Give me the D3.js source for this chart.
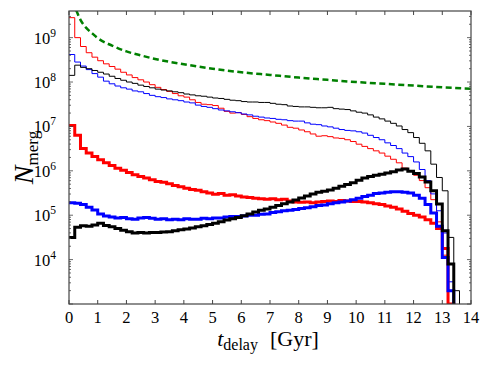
<!DOCTYPE html>
<html>
<head>
<meta charset="utf-8">
<script src="https://cdn.jsdelivr.net/npm/d3@7"></script>
<style>
body { margin: 0; background: #fff; }
text { font-family: "Liberation Serif", "DejaVu Serif", serif; fill: #000; }
</style>
</head>
<body>
<script>
// histogram bins: 0.2 Gyr wide starting at 0, values are log10(N_merg)
var binStart = 0, binWidth = 0.2;

var redThin = [9.45, 9.00, 8.80, 8.66, 8.56, 8.48, 8.41, 8.35, 8.29, 8.22,
  8.16, 8.10, 8.05, 8.00, 7.94, 7.88, 7.83, 7.79, 7.74, 7.69,
  7.66, 7.60, 7.54, 7.50, 7.49, 7.47, 7.41, 7.34, 7.30, 7.31,
  7.27, 7.22, 7.18, 7.15, 7.13, 7.10, 7.07, 7.03, 6.98, 6.96,
  6.92, 6.88, 6.83, 6.78, 6.79, 6.77, 6.74, 6.73, 6.70, 6.66,
  6.60, 6.55, 6.50, 6.45, 6.40, 6.33, 6.26, 6.18, 6.06, 6.00,
  5.90, 5.78, 5.62, 5.35, 4.85, 4.10, 2.50];

var blueThin = [8.62, 8.45, 8.36, 8.28, 8.19, 8.11, 8.02, 7.96, 7.91, 7.87,
  7.84, 7.80, 7.78, 7.74, 7.70, 7.67, 7.65, 7.62, 7.60, 7.58,
  7.55, 7.53, 7.48, 7.45, 7.43, 7.40, 7.37, 7.35, 7.33, 7.31,
  7.28, 7.26, 7.23, 7.21, 7.19, 7.18, 7.16, 7.15, 7.13, 7.12,
  7.12, 7.08, 7.05, 7.04, 7.01, 6.99, 6.96, 6.93, 6.91, 6.90,
  6.88, 6.85, 6.80, 6.75, 6.70, 6.63, 6.57, 6.50, 6.40, 6.32,
  6.20, 6.03, 5.78, 5.48, 5.10, 4.60, 3.50, 2.50];

var blackThin = [8.15, 8.38, 8.33, 8.30, 8.26, 8.22, 8.18, 8.13, 8.08, 8.04,
  8.00, 7.97, 7.93, 7.90, 7.87, 7.84, 7.82, 7.80, 7.78, 7.76,
  7.73, 7.71, 7.69, 7.68, 7.66, 7.64, 7.63, 7.61, 7.59, 7.58,
  7.56, 7.55, 7.55, 7.54, 7.54, 7.52, 7.50, 7.49, 7.46, 7.45,
  7.44, 7.44, 7.43, 7.42, 7.42, 7.43, 7.40, 7.39, 7.38, 7.35,
  7.32, 7.30, 7.26, 7.21, 7.17, 7.12, 7.07, 7.01, 6.93, 6.86,
  6.75, 6.62, 6.45, 6.15, 5.85, 5.55, 4.50, 3.30];

var redThick = [7.02, 6.80, 6.50, 6.40, 6.32, 6.25, 6.18, 6.12, 6.06, 6.01,
  5.96, 5.91, 5.87, 5.84, 5.80, 5.76, 5.74, 5.71, 5.67, 5.64,
  5.61, 5.58, 5.56, 5.53, 5.50, 5.47, 5.49, 5.45, 5.46, 5.43,
  5.41, 5.40, 5.38, 5.37, 5.36, 5.37, 5.35, 5.36, 5.32, 5.30,
  5.29, 5.30, 5.28, 5.30, 5.31, 5.32, 5.31, 5.33, 5.32, 5.31,
  5.31, 5.30, 5.28, 5.26, 5.24, 5.21, 5.18, 5.14, 5.09, 5.04,
  5.00, 4.96, 4.90, 4.82, 4.70, 4.25, 3.00];

var blueThick = [5.28, 5.27, 5.24, 5.18, 5.12, 5.03, 4.98, 4.96, 4.94, 4.95,
  4.92, 4.91, 4.94, 4.95, 4.93, 4.91, 4.92, 4.90, 4.91, 4.90,
  4.92, 4.91, 4.91, 4.93, 4.92, 4.94, 4.94, 4.96, 4.97, 4.97,
  4.98, 5.00, 5.00, 5.02, 5.03, 5.06, 5.08, 5.10, 5.11, 5.13,
  5.15, 5.17, 5.19, 5.22, 5.23, 5.26, 5.28, 5.30, 5.32, 5.35,
  5.38, 5.42, 5.45, 5.49, 5.50, 5.52, 5.53, 5.53, 5.52, 5.50,
  5.45, 5.38, 5.24, 5.05, 4.75, 4.05, 3.30];

var blackThick = [4.50, 4.73, 4.76, 4.75, 4.78, 4.82, 4.77, 4.74, 4.70, 4.66,
  4.63, 4.60, 4.61, 4.60, 4.61, 4.61, 4.62, 4.63, 4.65, 4.67,
  4.69, 4.71, 4.74, 4.76, 4.79, 4.82, 4.85, 4.89, 4.92, 4.95,
  4.99, 5.03, 5.07, 5.11, 5.14, 5.18, 5.22, 5.26, 5.30, 5.34,
  5.39, 5.43, 5.48, 5.52, 5.54, 5.57, 5.61, 5.65, 5.69, 5.73,
  5.79, 5.84, 5.87, 5.90, 5.92, 5.95, 5.98, 6.02, 6.04, 5.99,
  5.94, 5.86, 5.75, 5.55, 5.25, 4.65, 3.90, 2.50];

// smooth reference curve (green dashed): [t, log10 N]
var greenT = [0.25, 0.4, 0.6, 0.8, 1.0, 1.5, 2.0, 2.5, 3.0, 4.0, 5.0, 6.0, 7.0, 8.0, 9.0, 10.0, 11.0, 12.0, 13.0, 14.0];
var greenLog = [9.62, 9.40, 9.22, 9.10, 8.99, 8.82, 8.69, 8.60, 8.52, 8.40, 8.30, 8.22, 8.16, 8.10, 8.05, 8.00, 7.96, 7.92, 7.88, 7.85];

var xTicks = [0, 1, 2, 3, 4, 5, 6, 7, 8, 9, 10, 11, 12, 13, 14];
var yMajorExp = [4, 5, 6, 7, 8, 9];

var width = 491, height = 370;
var margin = {left: 69, right: 20, top: 11, bottom: 66};
var w = width - margin.left - margin.right,
    h = height - margin.top - margin.bottom;

var svg = d3.select("body").append("svg")
    .attr("width", width)
    .attr("height", height);

var x = d3.scaleLinear().domain([0, 14]).range([0, w]);
var y = d3.scaleLog().domain([1e3, Math.pow(10, 9.6)]).range([h, 0]);

svg.append("defs").append("clipPath").attr("id", "clip")
  .append("rect").attr("width", w).attr("height", h);

var g = svg.append("g")
    .attr("transform", "translate(" + margin.left + "," + margin.top + ")");

var plot = g.append("g").attr("clip-path", "url(#clip)");

// outline of a step histogram, dropping to the bottom after the last bin
function stepPoints(vals) {
  var pts = [];
  vals.forEach(function(v, i) {
    var x0 = binStart + i * binWidth;
    pts.push([x0, Math.pow(10, v)], [x0 + binWidth, Math.pow(10, v)]);
  });
  pts.push([binStart + vals.length * binWidth, 1]);
  return pts;
}

var line = d3.line()
    .x(function(d) { return x(d[0]); })
    .y(function(d) { return y(d[1]); });

var series = [
  {vals: redThin, color: "#ff0000", lw: 1},
  {vals: blueThin, color: "#0000ff", lw: 1},
  {vals: blackThin, color: "#000000", lw: 1},
  {vals: redThick, color: "#ff0000", lw: 3},
  {vals: blueThick, color: "#0000ff", lw: 3},
  {vals: blackThick, color: "#000000", lw: 3}
];

series.forEach(function(s) {
  plot.append("path")
    .attr("d", line(stepPoints(s.vals)))
    .attr("fill", "none")
    .attr("stroke", s.color)
    .attr("stroke-width", s.lw)
    .attr("stroke-linejoin", "miter");
});

var greenLine = d3.line()
    .curve(d3.curveMonotoneX)
    .x(function(d, i) { return x(greenT[i]); })
    .y(function(d) { return y(Math.pow(10, d)); });

plot.append("path")
  .attr("d", greenLine(greenLog))
  .attr("fill", "none")
  .attr("stroke", "#008000")
  .attr("stroke-width", 2.5)
  .attr("stroke-dasharray", "6,3.5");

// frame
g.append("rect")
  .attr("width", w).attr("height", h)
  .attr("fill", "none").attr("stroke", "#444").attr("stroke-width", 1.2);

// x ticks (inward, top and bottom)
xTicks.forEach(function(t) {
  g.append("line").attr("x1", x(t)).attr("x2", x(t)).attr("y1", h).attr("y2", h - 4)
    .attr("stroke", "#444");
  g.append("line").attr("x1", x(t)).attr("x2", x(t)).attr("y1", 0).attr("y2", 4)
    .attr("stroke", "#444");
  g.append("text")
    .attr("x", x(t)).attr("y", h + 19)
    .attr("text-anchor", "middle")
    .attr("font-size", 16.5)
    .text(t);
});

// y ticks (log, major + minor, left and right)
var yAll = y.ticks().filter(function(v) { return v >= 1e3 && v <= y.domain()[1]; });
yAll.forEach(function(v) {
  var e = Math.log10(v);
  var major = Math.abs(e - Math.round(e)) < 1e-9;
  var len = major ? 4 : 2;
  g.append("line").attr("x1", 0).attr("x2", len).attr("y1", y(v)).attr("y2", y(v))
    .attr("stroke", "#444").attr("stroke-width", 0.8);
  g.append("line").attr("x1", w).attr("x2", w - len).attr("y1", y(v)).attr("y2", y(v))
    .attr("stroke", "#444").attr("stroke-width", 0.8);
});

yMajorExp.forEach(function(e) {
  var t = g.append("text")
    .attr("x", -13).attr("y", y(Math.pow(10, e)) + 6)
    .attr("text-anchor", "end")
    .attr("font-size", 16.5);
  t.append("tspan").text("10");
  t.append("tspan").attr("dy", -7).attr("font-size", 11.5).text(e);
});

// axis labels
var xl = svg.append("text")
  .attr("x", margin.left + w / 2 - 2).attr("y", 346)
  .attr("text-anchor", "middle")
  .attr("font-size", 22);
xl.append("tspan").attr("font-style", "italic").text("t");
xl.append("tspan").attr("dy", 4).attr("font-size", 16).text("delay");
xl.append("tspan").attr("dy", -4).attr("dx", 12).text("[Gyr]");

var yl = svg.append("text")
  .attr("transform", "translate(33," + (margin.top + h / 2) + ") rotate(-90)")
  .attr("text-anchor", "middle")
  .attr("font-size", 28);
yl.append("tspan").attr("font-style", "italic").text("N");
yl.append("tspan").attr("dy", 5).attr("font-size", 17).text("merg");
</script>
</body>
</html>
